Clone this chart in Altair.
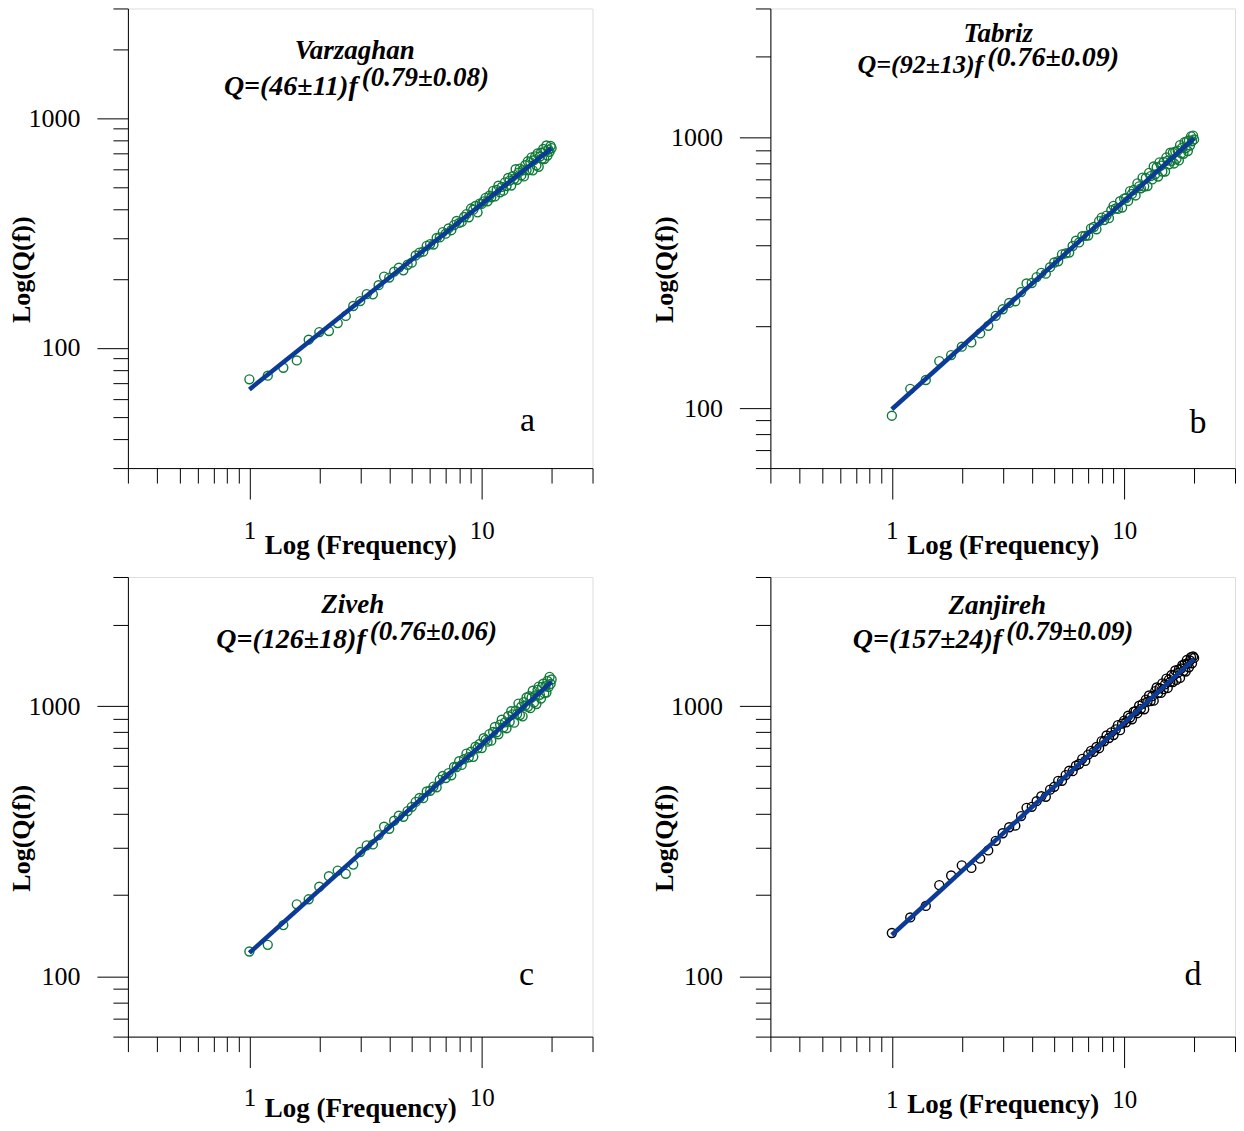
import altair as alt
import pandas as pd

SERIF = "Liberation Serif"

FREQ = [1.0, 1.2, 1.4, 1.6, 1.8, 2.0, 2.2, 2.4, 2.6, 2.8, 3.0, 3.2, 3.4, 3.6, 3.8,
        4.0, 4.2, 4.4, 4.6, 4.8, 5.0, 5.2, 5.4, 5.6, 5.8, 6.0, 6.2, 6.4, 6.6, 6.8,
        7.0, 7.2, 7.4, 7.6, 7.8, 8.0, 8.2, 8.4, 8.6, 8.8, 9.0, 9.2, 9.4, 9.6, 9.8,
        10.0, 10.2, 10.4, 10.6, 10.8, 11.0, 11.2, 11.4, 11.6, 11.8, 12.0, 12.2, 12.4,
        12.6, 12.8, 13.0, 13.2, 13.4, 13.6, 13.8, 14.0, 14.2, 14.4, 14.6, 14.8, 15.0,
        15.2, 15.4, 15.6, 15.8, 16.0, 16.2, 16.4, 16.6, 16.8, 17.0, 17.2, 17.4, 17.6,
        17.8, 18.0, 18.2, 18.4, 18.6, 18.8, 19.0, 19.2, 19.4, 19.6, 19.8, 20.0]

Q_VARZAGHAN = [73.0, 75.7, 82.0, 88.2, 108.6, 117.2, 118.4, 128.2, 137.8, 152.2, 159.9,
               171.4, 171.0, 187.5, 204.4, 202.3, 214.7, 223.4, 217.5, 230.1, 234.9, 252.5,
               260.0, 262.4, 278.2, 283.1, 281.9, 301.1, 302.5, 319.2, 314.1, 331.0, 325.2,
               342.4, 356.6, 349.9, 353.3, 371.3, 382.1, 370.2, 404.1, 399.6, 414.6, 388.9,
               424.6, 423.2, 434.3, 449.9, 434.7, 459.4, 452.5, 482.4, 456.3, 486.7, 507.9,
               475.6, 501.9, 483.4, 525.3, 506.1, 549.0, 534.8, 509.1, 558.6, 543.3, 599.6,
               539.1, 579.4, 603.1, 563.3, 592.9, 557.7, 623.6, 593.7, 648.8, 593.7, 643.3,
               674.8, 592.4, 656.1, 681.7, 622.6, 701.3, 614.3, 680.6, 707.2, 665.5, 733.7,
               663.3, 718.5, 760.1, 687.6, 729.6, 713.9, 756.4, 740.3]

Q_TABRIZ = [93.7, 117.8, 127.0, 149.2, 157.0, 168.6, 174.8, 188.7, 201.4, 219.2, 231.8,
            244.7, 248.0, 268.5, 288.9, 289.9, 305.0, 316.0, 314.0, 331.8,
            345.2, 348.8, 370.0, 373.0, 375.5, 397.3, 415.6, 409.4, 431.8, 433.1,
            434.1, 461.7, 466.9, 457.8, 491.1, 505.7, 495.2, 514.7, 503.5, 538.9,
            559.1, 546.8, 544.8, 581.9, 551.0, 594.6, 597.7, 582.8, 634.1, 618.6,
            640.0, 610.7, 677.1, 660.2, 649.1, 711.1, 659.0, 708.6, 661.7, 740.2,
            720.5, 700.3, 781.5, 731.3, 776.9, 717.6, 809.6, 787.4, 749.1, 812.1,
            748.9, 844.9, 821.0, 796.4, 878.9, 820.4, 878.9, 801.9, 887.0, 834.3,
            894.5, 822.9, 937.5, 873.8, 917.8, 870.9, 961.6, 913.7, 968.2, 890.9,
            974.8, 934.4, 1009.9, 969.1, 1016.2, 984.1]

Q_ZIVEH = [123.8, 131.0, 155.0, 185.0, 193.1, 214.9, 235.0, 246.6, 239.9, 259.4, 288.7,
           305.5, 308.0, 333.6, 358.3, 352.0, 376.9, 393.2, 389.9, 409.0, 424.3, 442.4, 457.5,
           456.6, 483.3, 486.4, 503.9, 501.1, 533.9, 551.6, 542.1, 565.2, 554.5,
           595.2, 595.2, 625.2, 606.1, 636.4, 667.4, 646.7, 677.9, 649.0, 707.9,
           698.5, 723.9, 699.1, 761.0, 750.2, 738.8, 787.7, 744.8, 802.2, 837.2,
           800.1, 786.1, 854.3, 890.4, 833.6, 869.8, 828.0, 917.3, 874.8, 957.3,
           931.7, 868.2, 961.9, 934.9, 1021.3, 926.2, 994.3, 916.1, 1034.7, 1005.0,
           1076.0, 994.3, 1086.8, 982.1, 1075.8, 1139.3, 1031.5, 1095.0, 1017.4, 1148.1,
           1180.5, 1101.0, 1065.4, 1177.4, 1210.2, 1115.7, 1183.6, 1122.5, 1238.6, 1176.6,
           1282.9, 1207.6, 1253.5]

Q_ZANJIREH = [144.9, 165.5, 182.5, 217.8, 236.4, 257.8, 252.2, 272.9, 292.6, 317.6, 338.8,
              356.5, 361.4, 392.1, 420.6, 424.2, 445.0, 464.2, 462.0, 491.0,
              503.1, 529.3, 529.3, 555.6, 576.5, 574.8, 601.9, 610.7, 638.1, 627.3,
              661.6, 683.2, 677.3, 705.8, 698.6, 742.1, 741.3, 778.4, 762.0, 799.7,
              781.7, 820.0, 850.2, 814.3, 861.4, 884.0, 871.2, 920.8, 907.2, 893.4,
              952.9, 956.7, 941.0, 1003.1, 976.9, 1019.5, 972.5, 1056.5, 1038.5, 1093.9,
              1043.0, 1088.0, 1046.9, 1136.0, 1171.1, 1117.2, 1163.8, 1118.7, 1213.2, 1155.1,
              1202.9, 1263.0, 1166.6, 1252.8, 1227.9, 1302.4, 1226.3, 1301.7, 1353.7, 1249.0,
              1325.9, 1365.3, 1270.6, 1376.4, 1415.6, 1346.7, 1427.5, 1341.6, 1479.6, 1435.9,
              1390.6, 1473.8, 1514.9, 1440.0, 1525.3, 1506.8]

FIT_F = [1, 20]
FIT_VARZAGHAN = [66, 740]
FIT_TABRIZ = [99, 994]
FIT_ZIVEH = [122.4, 1229]
FIT_ZANJIREH = [142.5, 1492]

X_TICKS = [0.3, 0.4, 0.5, 0.6, 0.7, 0.8, 0.9, 1, 2, 3, 4, 5, 6, 7, 8, 9, 10, 20, 30]
Y_TICKS_30 = [30, 40, 50, 60, 70, 80, 90, 100, 200, 300, 400, 500, 600, 700, 800, 900,
              1000, 2000, 3000]
Y_TICKS_60 = [60, 70, 80, 90, 100, 200, 300, 400, 500, 600, 700, 800, 900,
              1000, 2000, 3000]

STATIONS = ["Varzaghan", "Tabriz", "Ziveh", "Zanjireh"]
FORMULAS = ["Q=(46\u00b111)f", "Q=(92\u00b113)f", "Q=(126\u00b118)f", "Q=(157\u00b124)f"]
EXPONENTS = ["(0.79\u00b10.08)", "(0.76\u00b10.09)", "(0.76\u00b10.06)", "(0.79\u00b10.09)"]
LETTERS = ["a", "b", "c", "d"]

W, H = 465, 460
GREEN = "#0f7a38"
BLUE = "#0b3b96"

X_MAJOR = "datum.value == 1 || datum.value == 10"
Y_MAJOR = "datum.value == 100 || datum.value == 1000"


def panel(q, fit_q, y_ticks, y_min, pt_color, station, formula, exponent, letter,
          title_xy, split_xy, sup_y, letter_xy, xlab_pad, xtitle_y,
          main_size=28, sup_size=27):
    pts = pd.DataFrame({"f": FREQ, "Q": q})
    fit = pd.DataFrame({"f": FIT_F, "Q": fit_q})
    xs = alt.Scale(type="log", domain=[0.3, 30], nice=False)
    ys = alt.Scale(type="log", domain=[y_min, 3000], nice=False)
    xaxis = alt.Axis(
        values=X_TICKS,
        labelExpr="(" + X_MAJOR + ") ? format(datum.value, 'd') : ''",
        tickSize={"condition": {"test": X_MAJOR, "value": 31}, "value": 15},
        labelFontSize={"condition": {"test": X_MAJOR, "value": 25}, "value": 0},
        labelPadding=xlab_pad, labelBaseline="top", labelFont=SERIF,
        labelColor="black", labelOverlap=False, labelFlush=False,
        title="Log (Frequency)", titleFont=SERIF, titleFontSize=27, titleFontWeight="bold",
        titleColor="black", titleY=xtitle_y, titleBaseline="middle",
        domainColor="black", tickColor="black", grid=False,
    )
    yaxis = alt.Axis(
        values=y_ticks,
        labelExpr="(" + Y_MAJOR + ") ? format(datum.value, 'd') : ''",
        tickSize={"condition": {"test": Y_MAJOR, "value": 31}, "value": 15},
        labelFontSize={"condition": {"test": Y_MAJOR, "value": 26}, "value": 0},
        labelPadding=17, labelFont=SERIF, labelColor="black",
        labelOverlap=False, labelFlush=False,
        title="Log(Q(f))", titleFont=SERIF, titleFontSize=26, titleFontWeight="bold",
        titleColor="black", titleX=-106, titleY=261, titleAngle=-90,
        titleBaseline="middle", titleAlign="center",
        domainColor="black", tickColor="black", grid=False,
    )
    x = alt.X("f:Q", scale=xs, axis=xaxis)
    y = alt.Y("Q:Q", scale=ys, axis=yaxis)
    points = alt.Chart(pts).mark_point(
        shape="circle", filled=False, size=80, strokeWidth=1.4, color=pt_color, opacity=1
    ).encode(x=x, y=y)
    line = alt.Chart(fit).mark_line(color=BLUE, strokeWidth=4.5).encode(x=x, y=y)

    def txt(s, px, py, align="center", size=28, weight="bold", style="italic"):
        return alt.Chart(pd.DataFrame({"t": [s]})).mark_text(
            font=SERIF, fontSize=size, fontWeight=weight, fontStyle=style,
            align=align, baseline="alphabetic", color="black"
        ).encode(x=alt.value(px), y=alt.value(py), text="t:N")

    t1 = txt(station, title_xy[0], title_xy[1], size=27)
    t2 = txt(formula, split_xy[0], split_xy[1], align="right", size=main_size)
    t3 = txt(exponent, split_xy[0] + 4, sup_y, align="left", size=sup_size)
    t4 = txt(letter, letter_xy[0], letter_xy[1], size=34, weight="normal", style="normal")
    return alt.layer(points, line, t1, t2, t3, t4).properties(width=W, height=H)


pa = panel(Q_VARZAGHAN, FIT_VARZAGHAN, Y_TICKS_30, 30, GREEN, STATIONS[0], FORMULAS[0],
           EXPONENTS[0], LETTERS[0], (227, 51), (230, 87), 78, (400, 423), 19, 77)
pb = panel(Q_TABRIZ, FIT_TABRIZ, Y_TICKS_60, 60, GREEN, STATIONS[1], FORMULAS[1],
           EXPONENTS[1], LETTERS[1], (228, 34), (213, 65), 58, (428, 425), 19, 77,
           main_size=26, sup_size=28)
pc = panel(Q_ZIVEH, FIT_ZIVEH, Y_TICKS_60, 60, GREEN, STATIONS[2], FORMULAS[2],
           EXPONENTS[2], LETTERS[2], (225, 36), (238, 71), 63, (399, 408), 18, 72)
pd_ = panel(Q_ZANJIREH, FIT_ZANJIREH, Y_TICKS_60, 60, "black", STATIONS[3], FORMULAS[3],
            EXPONENTS[3], LETTERS[3], (227, 37), (232, 71), 63, (423, 408), 20, 68)

row1 = alt.hconcat(pa, pb, spacing=57)
row2 = alt.hconcat(pc, pd_, spacing=57)
chart = alt.vconcat(row1, row2, spacing=17).properties(
    padding={"left": 0, "top": -1, "right": 0, "bottom": 0}
).configure_view(stroke="black", strokeWidth=1).configure(background="white")

chart.save("out.html", embed_options={"renderer": "svg", "actions": False})
